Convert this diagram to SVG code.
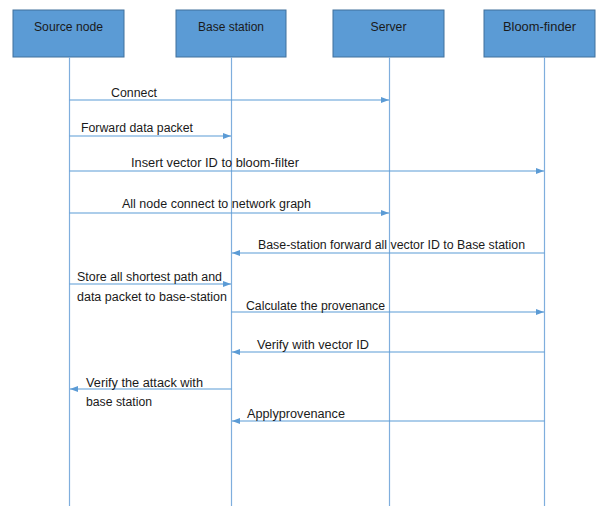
<svg xmlns="http://www.w3.org/2000/svg" width="597" height="506" viewBox="0 0 597 506">
<style>
.box{fill:#5B9BD5;stroke:#41719C;stroke-width:1}
.life{stroke:#7FAEDD;stroke-width:1.2;fill:none}
.msg{stroke:#5B9BD5;stroke-width:1.2;fill:none}
.t{font-family:"Liberation Sans",Arial,sans-serif;font-size:12px;fill:#1a1a1a}
.h{font-family:"Liberation Sans",Arial,sans-serif;font-size:12.5px;fill:#1a1a1a;text-anchor:middle}
</style>
<defs>
<marker id="ah" viewBox="0 0 8 6" refX="8" refY="3" markerWidth="8" markerHeight="6" markerUnits="userSpaceOnUse" orient="auto">
<path d="M0,0 L8,3 L0,6 Z" fill="#5B9BD5"/>
</marker>
</defs>
<rect width="597" height="506" fill="#fff"/>
<g id="source-node">
<rect class="box" x="13" y="10" width="111" height="47"/>
<text class="h" x="68.5" y="31" textLength="69" lengthAdjust="spacingAndGlyphs">Source node</text>
<line class="life" x1="69.5" y1="57" x2="69.5" y2="506"/>
</g>
<g id="base-station">
<rect class="box" x="176" y="10" width="110" height="47"/>
<text class="h" x="231" y="31" textLength="66" lengthAdjust="spacingAndGlyphs">Base station</text>
<line class="life" x1="231.5" y1="57" x2="231.5" y2="506"/>
</g>
<g id="server">
<rect class="box" x="333" y="10" width="111" height="47"/>
<text class="h" x="388.5" y="31" textLength="36" lengthAdjust="spacingAndGlyphs">Server</text>
<line class="life" x1="389.5" y1="57" x2="389.5" y2="506"/>
</g>
<g id="bloom-finder">
<rect class="box" x="484" y="10" width="111" height="47"/>
<text class="h" x="539.5" y="31" textLength="73" lengthAdjust="spacingAndGlyphs">Bloom-finder</text>
<line class="life" x1="544.5" y1="57" x2="544.5" y2="506"/>
</g>
<g id="connectors">
<line class="msg" x1="69.5" y1="100" x2="389" y2="100" marker-end="url(#ah)"/>
<line class="msg" x1="69.5" y1="136" x2="231" y2="136" marker-end="url(#ah)"/>
<line class="msg" x1="69.5" y1="171" x2="544" y2="171" marker-end="url(#ah)"/>
<line class="msg" x1="69.5" y1="213" x2="389" y2="213" marker-end="url(#ah)"/>
<line class="msg" x1="544.5" y1="253" x2="232" y2="253" marker-end="url(#ah)"/>
<line class="msg" x1="69.5" y1="284" x2="231" y2="284" marker-end="url(#ah)"/>
<line class="msg" x1="231.5" y1="312" x2="544" y2="312" marker-end="url(#ah)"/>
<line class="msg" x1="544.5" y1="352" x2="232" y2="352" marker-end="url(#ah)"/>
<line class="msg" x1="231.5" y1="389" x2="70" y2="389" marker-end="url(#ah)"/>
<line class="msg" x1="544.5" y1="421" x2="232" y2="421" marker-end="url(#ah)"/>
</g>
<g id="labels">
<text class="t" x="111" y="97" textLength="46" lengthAdjust="spacingAndGlyphs">Connect</text>
<text class="t" x="81" y="132" textLength="112" lengthAdjust="spacingAndGlyphs">Forward data packet</text>
<text class="t" x="131" y="167" textLength="168" lengthAdjust="spacingAndGlyphs">Insert vector ID to bloom-filter</text>
<text class="t" x="122" y="208" textLength="189" lengthAdjust="spacingAndGlyphs">All node connect to network graph</text>
<text class="t" x="258" y="249" textLength="267" lengthAdjust="spacingAndGlyphs">Base-station forward all vector ID to Base station</text>
<text class="t" x="77" y="281" textLength="145" lengthAdjust="spacingAndGlyphs">Store all shortest path and</text>
<text class="t" x="77" y="301" textLength="150" lengthAdjust="spacingAndGlyphs">data packet to base-station</text>
<text class="t" x="246" y="310" textLength="139" lengthAdjust="spacingAndGlyphs">Calculate the provenance</text>
<text class="t" x="257" y="349" textLength="112" lengthAdjust="spacingAndGlyphs">Verify with vector ID</text>
<text class="t" x="86" y="387" textLength="117" lengthAdjust="spacingAndGlyphs">Verify the attack with</text>
<text class="t" x="86" y="406" textLength="66" lengthAdjust="spacingAndGlyphs">base station</text>
<text class="t" x="247" y="418" textLength="98" lengthAdjust="spacingAndGlyphs">Applyprovenance</text>
</g>
</svg>
